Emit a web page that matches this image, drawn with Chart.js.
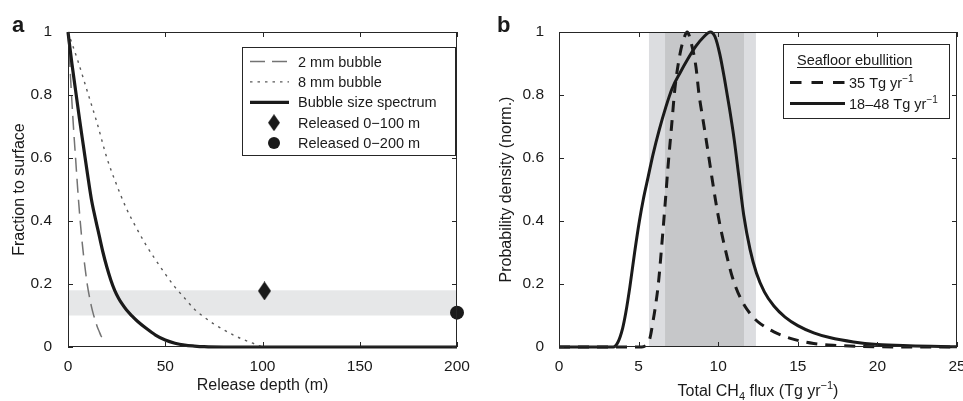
<!DOCTYPE html>
<html>
<head>
<meta charset="utf-8">
<script src="https://cdn.jsdelivr.net/npm/chart.js@4.4.1/dist/chart.umd.min.js"></script>
<style>
  html, body { margin: 0; padding: 0; background: #fff; }
  #wrap { position: relative; width: 963px; height: 401px; overflow: hidden; }
  canvas { position: absolute; top: 0; }
  #chart-a { left: 0; width: 480px; height: 401px; }
  #chart-b { left: 480px; width: 483px; height: 401px; }
</style>
</head>
<body>
<div id="wrap">
  <canvas id="chart-a" width="480" height="401"></canvas>
  <canvas id="chart-b" width="483" height="401"></canvas>
</div>
<script>
// ---- panel a: fraction of methane reaching the surface ----
const depth2mm = [0, 1, 2, 3, 4, 5, 6, 7, 8, 9, 10, 11, 12, 13, 14, 15, 16, 17, 18, 19];
const frac2mm = [1, 0.89, 0.78, 0.68, 0.59, 0.5, 0.42, 0.35, 0.29, 0.24, 0.195, 0.16, 0.13, 0.105, 0.085, 0.065, 0.05, 0.035, 0.025, 0.015];

const depth8mm = [0, 5, 10, 15, 20, 25, 30, 35, 40, 45, 50, 55, 60, 65, 70, 75, 80, 85, 90, 95, 100];
const frac8mm = [1, 0.91, 0.81, 0.71, 0.6, 0.515, 0.44, 0.38, 0.325, 0.277, 0.232, 0.19, 0.155, 0.12, 0.095, 0.073, 0.055, 0.038, 0.024, 0.012, 0];

const depthSpectrum = [0, 2, 4, 6, 8, 10, 12, 14, 16, 18, 20, 22, 24, 26, 28, 30, 33, 36, 40, 45, 50, 55, 60, 65, 70, 80, 100, 150, 200];
const fracSpectrum = [1, 0.9, 0.81, 0.72, 0.635, 0.55, 0.47, 0.41, 0.355, 0.3, 0.253, 0.213, 0.18, 0.155, 0.135, 0.118, 0.098, 0.08, 0.06, 0.038, 0.022, 0.012, 0.006, 0.003, 0.001, 0, 0, 0, 0];

const diamondDepth = [101];
const diamondFrac = [0.178];
const circleDepth = [200];
const circleFrac = [0.109];

const bandFrac = [0.10, 0.18];

const xTicksA = [0, 50, 100, 150, 200];
const yTicksA = [0, 0.2, 0.4, 0.6, 0.8, 1];

// ---- panel b: total CH4 flux ----
const fluxWide = [0, 3.4, 3.7, 4.0, 4.2, 4.45, 4.75, 5.05, 5.3, 5.6, 5.9, 6.3, 6.7, 7.1, 7.6, 8.1, 8.6, 9.1, 9.5, 9.8, 10.1, 10.4, 10.7, 11.0, 11.3, 11.6, 12.0, 12.4, 12.9, 13.5, 14.2, 15.0, 16.0, 17.0, 18.5, 20, 22, 25];
const pdfWide = [0, 0, 0.015, 0.06, 0.11, 0.19, 0.3, 0.4, 0.47, 0.54, 0.61, 0.69, 0.76, 0.82, 0.87, 0.915, 0.955, 0.985, 1.0, 0.985, 0.93, 0.85, 0.76, 0.66, 0.54, 0.42, 0.31, 0.235, 0.175, 0.13, 0.095, 0.068, 0.045, 0.03, 0.016, 0.008, 0.004, 0.001];

const fluxFixed = [0, 5.2, 5.5, 5.72, 5.9, 6.03, 6.24, 6.45, 6.66, 6.86, 7.07, 7.28, 7.6, 7.85, 8.05, 8.33, 8.6, 8.8, 9.05, 9.3, 9.6, 9.85, 10.1, 10.4, 10.9, 11.5, 12.1, 12.5, 13.5, 14.7, 16, 17.4, 19, 22, 25];
const pdfFixed = [0, 0, 0.008, 0.03, 0.08, 0.12, 0.2, 0.32, 0.45, 0.58, 0.7, 0.82, 0.93, 0.98, 1.0, 0.96, 0.89, 0.8, 0.72, 0.64, 0.54, 0.46, 0.39, 0.32, 0.22, 0.145, 0.1, 0.08, 0.048, 0.025, 0.011, 0.005, 0.002, 0, 0];

const bandOuter = [5.65, 12.37];
const bandInner = [6.66, 11.62];

const xTicksB = [0, 5, 10, 15, 20, 25];
const yTicksB = [0, 0.2, 0.4, 0.6, 0.8, 1];

const FONT = '"Liberation Sans", Arial, Helvetica, sans-serif';
const INK = "#1a1a1a";
const TICK_LEN = 5;
const TICK_FONT = { size: 15.5 };
const TITLE_FONT = { size: 16 };

Chart.defaults.font.family = FONT;
Chart.defaults.font.size = 15.5;
Chart.defaults.color = INK;

const toPoints = (xs, ys) => xs.map((x, i) => ({ x, y: ys[i] }));
const plainNumber = (v) => String(Number(v.toFixed(2)));

function diamondImage(w, h) {
  const c = document.createElement("canvas");
  c.width = w;
  c.height = h;
  const g = c.getContext("2d");
  g.fillStyle = INK;
  g.beginPath();
  g.moveTo(w / 2, 0);
  g.lineTo(w, h / 2);
  g.lineTo(w / 2, h);
  g.lineTo(0, h / 2);
  g.closePath();
  g.fill();
  return c;
}

// text with sub/superscript pieces, parts: [text, kind]
function drawRich(ctx, parts, x, y, size, align) {
  const small = Math.round(size * 0.68);
  const pieces = parts.map(([t, kind]) => {
    const fs = kind ? small : size;
    ctx.font = `${fs}px ${FONT}`;
    return { t, kind, fs, w: ctx.measureText(t).width };
  });
  const total = pieces.reduce((s, p) => s + p.w, 0);
  let cx = align === "center" ? x - total / 2 : x;
  ctx.textAlign = "left";
  ctx.textBaseline = "alphabetic";
  pieces.forEach((p) => {
    ctx.font = `${p.fs}px ${FONT}`;
    const dy = p.kind === "sup" ? -size * 0.42 : p.kind === "sub" ? size * 0.22 : 0;
    ctx.fillText(p.t, cx, y + dy);
    cx += p.w;
  });
  return total;
}

const fixTicks = (values) => (scale) => {
  scale.ticks = values.map((value) => ({ value }));
};

// fixed box sizes so the plot areas sit where the original figure has them
const xAxisFit = (scale) => {
  scale.height = 54;
  scale.paddingLeft = 0;
  scale.paddingRight = 0;
};

const frameAndTicks = {
  id: "frameAndTicks",
  afterDatasetsDraw(chart) {
    const { ctx, chartArea: a, scales } = chart;
    ctx.save();
    ctx.strokeStyle = "#262626";
    ctx.lineWidth = 1;
    ctx.beginPath();
    scales.x.ticks.forEach((t) => {
      const px = Math.round(scales.x.getPixelForValue(t.value)) + 0.5;
      ctx.moveTo(px, a.bottom);
      ctx.lineTo(px, a.bottom - TICK_LEN);
      ctx.moveTo(px, a.top);
      ctx.lineTo(px, a.top + TICK_LEN);
    });
    scales.y.ticks.forEach((t) => {
      const py = Math.round(scales.y.getPixelForValue(t.value)) + 0.5;
      ctx.moveTo(a.left, py);
      ctx.lineTo(a.left + TICK_LEN, py);
      ctx.moveTo(a.right, py);
      ctx.lineTo(a.right - TICK_LEN, py);
    });
    ctx.stroke();
    ctx.strokeRect(
      Math.round(a.left) + 0.5,
      Math.round(a.top) + 0.5,
      Math.round(a.right - a.left) - 1,
      Math.round(a.bottom - a.top) - 1
    );
    ctx.restore();
  },
};

function panelLabel(ctx, text, x) {
  ctx.save();
  ctx.fillStyle = INK;
  ctx.font = `bold 22px ${FONT}`;
  ctx.textAlign = "left";
  ctx.textBaseline = "alphabetic";
  ctx.fillText(text, x, 32);
  ctx.restore();
}

// ---------- chart a ----------
const bandA = {
  id: "bandA",
  beforeDatasetsDraw(chart) {
    const { ctx, chartArea: a, scales } = chart;
    const y1 = scales.y.getPixelForValue(bandFrac[1]);
    const y0 = scales.y.getPixelForValue(bandFrac[0]);
    ctx.save();
    ctx.fillStyle = "#e6e7e8";
    ctx.fillRect(a.left, y1, a.right - a.left, y0 - y1);
    ctx.restore();
  },
};

const legendA = {
  id: "legendA",
  afterDraw(chart) {
    const { ctx, chartArea: a } = chart;
    const left = a.left + 174;
    const top = a.top + 15;
    const right = a.right - 2;
    const bottom = a.top + 123;
    ctx.save();
    ctx.fillStyle = "#fff";
    ctx.fillRect(left, top, right - left, bottom - top);
    ctx.strokeStyle = "#262626";
    ctx.lineWidth = 1;
    ctx.strokeRect(left + 0.5, top + 0.5, right - left, bottom - top);

    const rows = [
      { label: "2 mm bubble", color: "#737373", width: 1.5, dash: [15, 7] },
      { label: "8 mm bubble", color: "#5a5a5a", width: 1.4, dash: [2.5, 5] },
      { label: "Bubble size spectrum", color: INK, width: 3.2, dash: [] },
      { label: "Released 0\u2212100 m", marker: "diamond" },
      { label: "Released 0\u2212200 m", marker: "circle" },
    ];
    const x0 = left + 8;
    const x1 = left + 47;
    const mx = left + 32;
    rows.forEach((r, i) => {
      const y = top + 14.5 + i * 20.4;
      if (r.marker === "diamond") {
        const img = diamondImage(12, 17);
        ctx.drawImage(img, mx - 6, y - 8.5);
      } else if (r.marker === "circle") {
        ctx.fillStyle = INK;
        ctx.beginPath();
        ctx.arc(mx, y, 6, 0, Math.PI * 2);
        ctx.fill();
      } else {
        ctx.strokeStyle = r.color;
        ctx.lineWidth = r.width;
        ctx.setLineDash(r.dash);
        ctx.beginPath();
        ctx.moveTo(x0, y);
        ctx.lineTo(x1, y);
        ctx.stroke();
        ctx.setLineDash([]);
      }
      ctx.fillStyle = INK;
      ctx.font = `14.5px ${FONT}`;
      ctx.textAlign = "left";
      ctx.textBaseline = "middle";
      ctx.fillText(r.label, left + 56, y + 1);
    });
    panelLabel(ctx, "a", 12);
    ctx.restore();
  },
};

new Chart(document.getElementById("chart-a"), {
  type: "line",
  data: {
    datasets: [
      {
        label: "Released 0\u2212100 m",
        data: toPoints(diamondDepth, diamondFrac),
        showLine: false,
        pointStyle: diamondImage(13, 19),
        pointRadius: 9,
        clip: false,
      },
      {
        label: "Released 0\u2212200 m",
        data: toPoints(circleDepth, circleFrac),
        showLine: false,
        pointStyle: "circle",
        pointRadius: 7,
        pointBackgroundColor: INK,
        pointBorderWidth: 0,
        clip: false,
      },
      {
        label: "Bubble size spectrum",
        data: toPoints(depthSpectrum, fracSpectrum),
        borderColor: INK,
        borderWidth: 3.2,
        pointRadius: 0,
        cubicInterpolationMode: "monotone",
        clip: false,
      },
      {
        label: "2 mm bubble",
        data: toPoints(depth2mm, frac2mm),
        borderColor: "#737373",
        borderWidth: 1.5,
        borderDash: [14, 7],
        pointRadius: 0,
        cubicInterpolationMode: "monotone",
        clip: false,
      },
      {
        label: "8 mm bubble",
        data: toPoints(depth8mm, frac8mm),
        borderColor: "#5a5a5a",
        borderWidth: 1.4,
        borderDash: [2.5, 5],
        pointRadius: 0,
        cubicInterpolationMode: "monotone",
        clip: false,
      },
    ],
  },
  options: {
    responsive: false,
    animation: false,
    devicePixelRatio: 1,
    layout: { padding: { left: 0, top: 32, right: 23, bottom: 0 }, autoPadding: false },
    plugins: { legend: { display: false }, tooltip: { enabled: false } },
    scales: {
      x: {
        type: "linear",
        min: 0,
        max: 200,
        afterBuildTicks: fixTicks(xTicksA),
        afterFit: xAxisFit,
        grid: { display: false },
        border: { display: false },
        ticks: { padding: 2, maxRotation: 0, font: TICK_FONT, callback: plainNumber },
        title: { display: true, text: "Release depth (m)", font: TITLE_FONT, padding: { top: 0, bottom: 6 } },
      },
      y: {
        type: "linear",
        min: 0,
        max: 1,
        afterBuildTicks: fixTicks(yTicksA),
        afterFit(scale) { scale.width = 68; },
        grid: { display: false },
        border: { display: false },
        ticks: { padding: 8, font: TICK_FONT, callback: plainNumber },
        title: { display: true, text: "Fraction to surface", font: TITLE_FONT, padding: { top: 10, bottom: 0 } },
      },
    },
  },
  plugins: [bandA, frameAndTicks, legendA],
});

// ---------- chart b ----------
const bandsB = {
  id: "bandsB",
  beforeDatasetsDraw(chart) {
    const { ctx, chartArea: a, scales } = chart;
    const fillBand = (range, color) => {
      const x0 = scales.x.getPixelForValue(range[0]);
      const x1 = scales.x.getPixelForValue(range[1]);
      ctx.fillStyle = color;
      ctx.fillRect(x0, a.top, x1 - x0, a.bottom - a.top);
    };
    ctx.save();
    fillBand(bandOuter, "#dcdde0");
    fillBand(bandInner, "#c6c7c9");
    ctx.restore();
  },
};

const legendB = {
  id: "legendB",
  afterDraw(chart) {
    const { ctx, chartArea: a } = chart;
    const left = a.left + 224;
    const top = 44;
    const right = a.right - 8;
    const bottom = 118;
    ctx.save();
    ctx.fillStyle = "#fff";
    ctx.fillRect(left, top, right - left, bottom - top);
    ctx.strokeStyle = "#262626";
    ctx.lineWidth = 1;
    ctx.strokeRect(left + 0.5, top + 0.5, right - left, bottom - top);

    ctx.fillStyle = INK;
    ctx.font = `14.5px ${FONT}`;
    ctx.textAlign = "left";
    ctx.textBaseline = "alphabetic";
    const title = "Seafloor ebullition";
    ctx.fillText(title, left + 14, 65);
    const tw = ctx.measureText(title).width;
    ctx.fillRect(left + 14, 67, tw, 1);

    const rows = [
      { parts: [["35 Tg yr"], ["\u22121", "sup"]], dash: [11.5, 10], y: 82.5 },
      { parts: [["18\u201348 Tg yr"], ["\u22121", "sup"]], dash: [], y: 103.5 },
    ];
    rows.forEach((r) => {
      ctx.strokeStyle = INK;
      ctx.lineWidth = 3;
      ctx.setLineDash(r.dash);
      ctx.beginPath();
      ctx.moveTo(left + 7, r.y);
      ctx.lineTo(left + 62, r.y);
      ctx.stroke();
      ctx.setLineDash([]);
      ctx.fillStyle = INK;
      drawRich(ctx, r.parts, left + 66, r.y + 5.5, 14.5, "left");
    });

    // x-axis title with sub/superscript
    drawRich(
      ctx,
      [["Total CH"], ["4", "sub"], [" flux (Tg yr"], ["\u22121", "sup"], [")"]],
      (a.left + a.right) / 2,
      396,
      16,
      "center"
    );
    panelLabel(ctx, "b", 17);
    ctx.restore();
  },
};

new Chart(document.getElementById("chart-b"), {
  type: "line",
  data: {
    datasets: [
      {
        label: "35 Tg yr\u207B\u00B9",
        data: toPoints(fluxFixed, pdfFixed),
        borderColor: INK,
        borderWidth: 3,
        borderDash: [11, 8],
        pointRadius: 0,
        cubicInterpolationMode: "monotone",
        clip: false,
      },
      {
        label: "18\u201348 Tg yr\u207B\u00B9",
        data: toPoints(fluxWide, pdfWide),
        borderColor: INK,
        borderWidth: 3,
        pointRadius: 0,
        cubicInterpolationMode: "monotone",
        clip: false,
      },
    ],
  },
  options: {
    responsive: false,
    animation: false,
    devicePixelRatio: 1,
    layout: { padding: { left: 0, top: 32, right: 6, bottom: 0 }, autoPadding: false },
    plugins: { legend: { display: false }, tooltip: { enabled: false } },
    scales: {
      x: {
        type: "linear",
        min: 0,
        max: 25,
        afterBuildTicks: fixTicks(xTicksB),
        afterFit: xAxisFit,
        grid: { display: false },
        border: { display: false },
        ticks: { padding: 2, maxRotation: 0, font: TICK_FONT, callback: plainNumber },
        title: { display: false },
      },
      y: {
        type: "linear",
        min: 0,
        max: 1,
        afterBuildTicks: fixTicks(yTicksB),
        afterFit(scale) { scale.width = 79; },
        grid: { display: false },
        border: { display: false },
        ticks: { padding: 7, font: TICK_FONT, callback: plainNumber },
        title: { display: true, text: "Probability density (norm.)", font: TITLE_FONT, padding: { top: 17, bottom: 0 } },
      },
    },
  },
  plugins: [bandsB, frameAndTicks, legendB],
});
</script>
</body>
</html>
